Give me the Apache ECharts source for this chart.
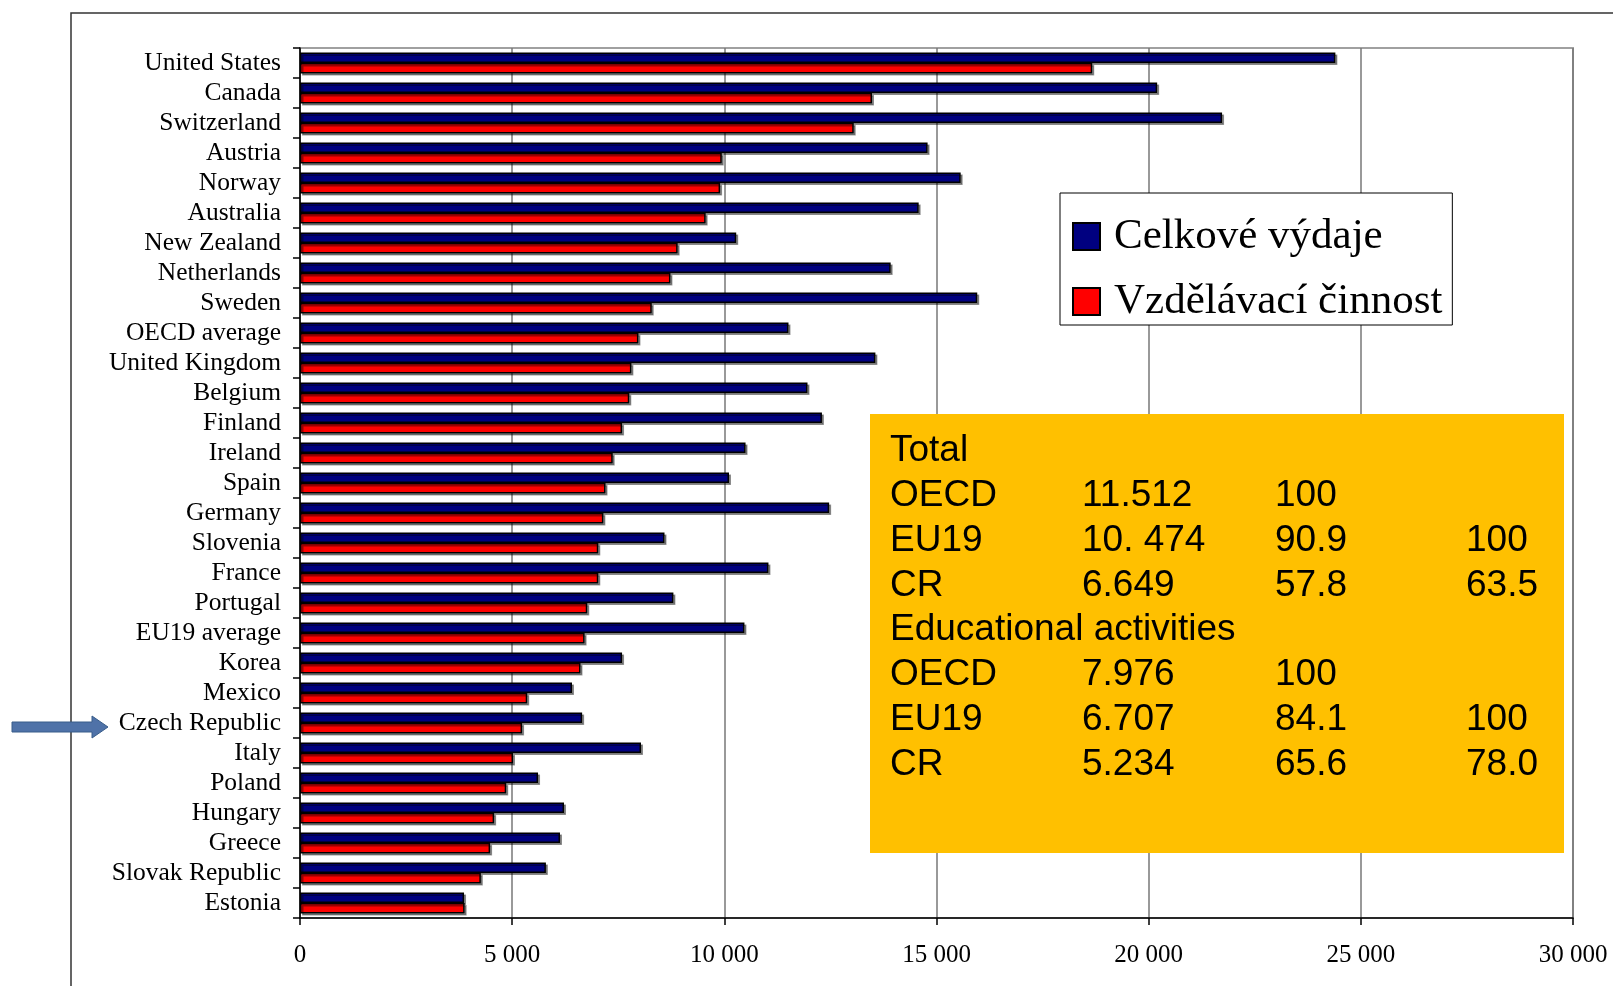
<!DOCTYPE html>
<html>
<head>
<meta charset="utf-8">
<script src="https://cdn.jsdelivr.net/npm/echarts@6/dist/echarts.min.js"></script>
<style>
html,body{margin:0;padding:0;background:#fff;}
#c{width:1613px;height:986px;}
</style>
</head>
<body>
<div id="c"></div>
<script>
const categories = ['United States','Canada','Switzerland','Austria','Norway','Australia','New Zealand','Netherlands','Sweden','OECD average','United Kingdom','Belgium','Finland','Ireland','Spain','Germany','Slovenia','France','Portugal','EU19 average','Korea','Mexico','Czech Republic','Italy','Poland','Hungary','Greece','Slovak Republic','Estonia'];
const totalSpend = [24400, 20200, 21730, 14790, 15570, 14580, 10280, 13920, 15960, 11512, 13560, 11960, 12300, 10500, 10110, 12470, 8590, 11040, 8800, 10474, 7590, 6410, 6649, 8036, 5610, 6222, 6127, 5795, 3866];
const eduActivity = [18670, 13480, 13050, 9940, 9900, 9560, 8900, 8730, 8290, 7976, 7810, 7760, 7590, 7370, 7200, 7150, 7030, 7030, 6770, 6707, 6610, 5355, 5234, 5020, 4860, 4575, 4480, 4262, 3880];
const seriesNames = ['Celkové výdaje', 'Vzdělávací činnost'];
const xTicks = [0, 5000, 10000, 15000, 20000, 25000, 30000];
const boxRows = [
  ['Total'],
  ['OECD', '11.512', '100', ''],
  ['EU19', '10. 474', '90.9', '100'],
  ['CR', '6.649', '57.8', '63.5'],
  ['Educational activities'],
  ['OECD', '7.976', '100', ''],
  ['EU19', '6.707', '84.1', '100'],
  ['CR', '5.234', '65.6', '78.0']
];

const chart = echarts.init(document.getElementById('c'));
const serif = '"Liberation Serif", "Times New Roman", serif';
const sans = '"Liberation Sans", Arial, sans-serif';

const colX = [890, 1082, 1275, 1466];
const boxTexts = [];
boxRows.forEach((row, r) => {
  row.forEach((t, c) => {
    if (!t) return;
    boxTexts.push({
      type: 'text', z: 21,
      style: { text: t, x: colX[c], y: 451 + r * 44.8, fontSize: 37, fontFamily: sans, fill: '#000', verticalAlign: 'middle', align: 'left' }
    });
  });
});

const barStyle = (color) => ({
  color: color, borderColor: '#000', borderWidth: 1.5,
  shadowColor: 'rgba(0,0,0,0.4)', shadowOffsetX: 2, shadowOffsetY: 2, shadowBlur: 0
});

chart.setOption({
  animation: false,
  backgroundColor: '#fff',
  grid: { left: 300, right: 40, top: 48, bottom: 68, show: true, borderColor: '#a0a0a0', borderWidth: 2 },
  legend: {
    data: seriesNames,
    orient: 'vertical',
    left: 1060, top: 193,
    icon: 'rect',
    itemWidth: 27, itemHeight: 27,
    itemGap: 22,
    padding: [22, 10, 2, 12],
    backgroundColor: '#fff',
    borderColor: '#000', borderWidth: 1,
    textStyle: { fontSize: 43, fontFamily: serif, color: '#000', padding: [0, 0, 0, 9] },
    z: 20
  },
  xAxis: {
    type: 'value', min: 0, max: 30000, interval: 5000,
    axisLine: { show: true, lineStyle: { color: '#000', width: 1.5 } },
    axisTick: { show: true, length: 7, lineStyle: { color: '#000', width: 1.5 } },
    axisLabel: {
      margin: 25, fontSize: 25, fontFamily: serif, color: '#000',
      formatter: v => xTicks.includes(v) ? String(v).replace(/\B(?=(\d{3})+(?!\d))/g, ' ') : ''
    },
    splitLine: { show: true, lineStyle: { color: '#777', width: 1.5 } }
  },
  yAxis: {
    type: 'category', data: categories, inverse: true,
    axisLine: { show: true, lineStyle: { color: '#000', width: 1.5 } },
    axisTick: { show: true, length: 7, lineStyle: { color: '#000', width: 1.5 } },
    axisLabel: { interval: 0, margin: 19, fontSize: 25.5, fontFamily: serif, color: '#000', padding: [0, 0, 4, 0] },
    splitLine: { show: false }
  },
  series: [
    { name: seriesNames[0], type: 'bar', data: totalSpend, barGap: '0%', barCategoryGap: '30%', itemStyle: barStyle('#000080') },
    { name: seriesNames[1], type: 'bar', data: eduActivity, barGap: '0%', barCategoryGap: '30%', itemStyle: barStyle('#ff0000') }
  ],
  graphic: [
    { type: 'rect', z: -10, silent: true, shape: { x: 71, y: 13, width: 1700, height: 1100 }, style: { fill: 'none', stroke: '#333', lineWidth: 1.5 } },
    { type: 'rect', z: 20, silent: true, shape: { x: 870, y: 414, width: 694, height: 439 }, style: { fill: '#ffc000' } },
    ...boxTexts,
    { type: 'polygon', z: 20, silent: true,
      shape: { points: [[12, 722], [92, 722], [92, 716], [108, 727], [92, 738], [92, 732], [12, 732]] },
      style: { fill: '#4f72a8', stroke: '#385d8a', lineWidth: 1 } }
  ]
});
</script>
</body>
</html>
